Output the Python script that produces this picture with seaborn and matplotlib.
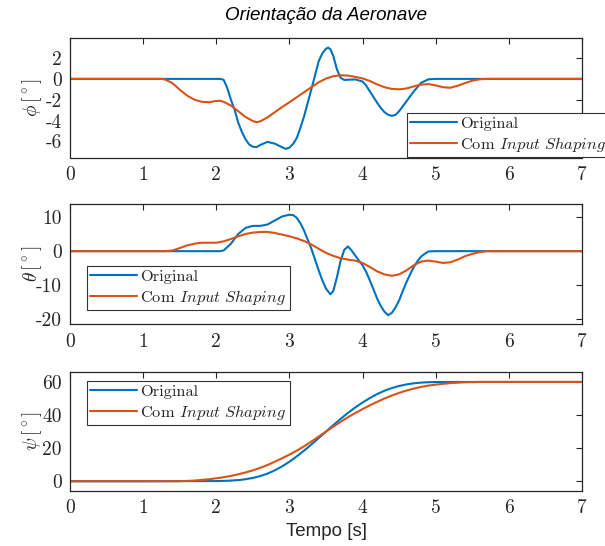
import numpy as np
import pandas as pd
import matplotlib
matplotlib.use("Agg")
import matplotlib.pyplot as plt
import seaborn as sns

# ---------------- data ----------------
series_names = ["Original", r"Com $Input\ Shaping$"]
x_ticks = [0, 1, 2, 3, 4, 5, 6, 7]

# phi - Original
t_phi_orig = [0.0, 1.0, 2.0, 2.05, 2.1, 2.15, 2.2, 2.25, 2.3, 2.35, 2.4, 2.45, 2.5, 2.55,
              2.6, 2.7, 2.8, 2.9, 2.95, 3.0, 3.05, 3.1, 3.15, 3.2, 3.25, 3.3, 3.35, 3.4,
              3.45, 3.5, 3.53, 3.56, 3.6, 3.65, 3.7, 3.75, 3.8, 3.9, 4.0, 4.05, 4.1, 4.15,
              4.2, 4.25, 4.3, 4.35, 4.4, 4.45, 4.5, 4.6, 4.7, 4.8, 4.9, 5.0, 6.0, 7.0]
phi_orig = [0.0, 0.0, 0.0, 0.0, -0.08, -0.87, -2.0, -2.95, -4.2, -5.1, -5.8, -6.3, -6.52, -6.55,
            -6.35, -6.05, -6.22, -6.57, -6.72, -6.6, -6.25, -5.68, -4.7, -3.6, -2.3, -1.0, 0.35, 1.7,
            2.45, 2.9, 3.0, 2.85, 2.2, 0.9, 0.1, -0.1, -0.08, -0.05, -0.25, -0.65, -1.2, -1.75,
            -2.3, -2.8, -3.2, -3.45, -3.55, -3.45, -3.1, -2.15, -1.2, -0.38, -0.04, 0.0, 0.0, 0.0]

# phi - Com Input Shaping
t_phi_is = [0.0, 1.0, 1.25, 1.3, 1.4, 1.5, 1.6, 1.7, 1.8, 1.9, 2.0, 2.05, 2.1, 2.2, 2.3, 2.4,
            2.5, 2.55, 2.6, 2.7, 2.8, 2.9, 3.0, 3.1, 3.2, 3.3, 3.4, 3.5, 3.6, 3.7, 3.8, 3.9,
            4.0, 4.1, 4.2, 4.3, 4.4, 4.5, 4.6, 4.7, 4.8, 4.9, 5.0, 5.1, 5.2, 5.3, 5.4, 5.5,
            5.6, 5.7, 6.0, 7.0]
phi_is = [0.0, 0.0, 0.0, -0.06, -0.4, -1.03, -1.6, -1.99, -2.2, -2.24, -2.12, -2.1, -2.2, -2.56, -3.1, -3.66,
          -4.05, -4.15, -4.08, -3.7, -3.2, -2.7, -2.24, -1.76, -1.28, -0.8, -0.32, 0.03, 0.26, 0.35, 0.32, 0.19,
          0.05, -0.2, -0.53, -0.8, -0.96, -1.0, -0.92, -0.72, -0.55, -0.5, -0.62, -0.8, -0.85, -0.66, -0.4, -0.17,
          -0.04, 0.0, 0.0, 0.0]

# theta - Original
t_theta_orig = [0.0, 1.0, 2.0, 2.05, 2.1, 2.2, 2.3, 2.4, 2.5, 2.6, 2.7, 2.8, 2.9, 3.0, 3.05,
                3.1, 3.15, 3.2, 3.25, 3.3, 3.35, 3.4, 3.45, 3.5, 3.56, 3.6, 3.65, 3.7, 3.75,
                3.8, 3.85, 3.9, 3.95, 4.0, 4.05, 4.1, 4.15, 4.2, 4.25, 4.3, 4.35, 4.4, 4.45,
                4.5, 4.55, 4.6, 4.65, 4.7, 4.75, 4.8, 4.85, 4.9, 5.0, 6.0, 7.0]
theta_orig = [0.0, 0.0, 0.0, 0.0, 0.2, 2.2, 5.1, 6.9, 7.5, 7.5, 7.9, 9.1, 10.3, 10.8, 10.7,
              9.9, 8.3, 6.1, 3.4, 0.7, -2.5, -5.7, -8.7, -11.1, -12.8, -11.8, -7.7, -2.8, 0.4,
              1.4, 0.2, -1.3, -2.8, -4.2, -6.2, -8.7, -11.4, -14.1, -16.3, -18.0, -19.0, -18.3, -16.7,
              -14.6, -11.8, -9.2, -6.9, -4.7, -3.0, -1.6, -0.8, -0.1, 0.0, 0.0, 0.0]

# theta - Com Input Shaping
t_theta_is = [0.0, 1.0, 1.3, 1.4, 1.5, 1.6, 1.7, 1.8, 1.9, 2.0, 2.1, 2.2, 2.3, 2.4, 2.5, 2.6,
              2.7, 2.8, 2.9, 3.0, 3.1, 3.2, 3.3, 3.4, 3.5, 3.6, 3.7, 3.8, 3.9, 4.0, 4.1, 4.2,
              4.3, 4.4, 4.5, 4.6, 4.7, 4.8, 4.9, 5.0, 5.1, 5.2, 5.3, 5.4, 5.5, 5.6, 5.7, 6.0, 7.0]
theta_is = [0.0, 0.0, 0.0, 0.2, 0.9, 1.7, 2.2, 2.5, 2.5, 2.5, 2.9, 3.6, 4.4, 5.1, 5.5, 5.7,
            5.7, 5.4, 4.9, 4.4, 3.8, 3.0, 2.0, 0.7, -0.5, -1.4, -2.1, -2.5, -2.8, -3.5, -4.7, -6.0,
            -6.9, -7.3, -6.9, -5.7, -4.2, -3.1, -2.8, -3.1, -3.5, -3.3, -2.5, -1.5, -0.8, -0.3, 0.0, 0.0, 0.0]

# psi - Original
t_psi_orig = [0.0, 1.0, 2.0, 2.1, 2.2, 2.3, 2.4, 2.5, 2.6, 2.7, 2.8, 2.9, 3.0, 3.1, 3.2, 3.3,
              3.4, 3.5, 3.6, 3.7, 3.8, 3.9, 4.0, 4.1, 4.2, 4.3, 4.4, 4.5, 4.6, 4.7, 4.8, 4.9,
              5.0, 5.1, 6.0, 7.0]
psi_orig = [0.0, 0.0, 0.1, 0.2, 0.4, 0.7, 1.2, 2.0, 3.1, 4.6, 6.6, 9.0, 11.8, 15.0, 18.5, 22.2,
            26.1, 30.0, 33.9, 37.7, 41.3, 44.6, 47.6, 50.3, 52.7, 54.7, 56.3, 57.6, 58.5, 59.2, 59.6, 59.85,
            59.95, 60.0, 60.0, 60.0]

# psi - Com Input Shaping
t_psi_is = [0.0, 1.0, 1.4, 1.5, 1.6, 1.7, 1.8, 1.9, 2.0, 2.1, 2.2, 2.3, 2.4, 2.5, 2.6, 2.7,
            2.8, 2.9, 3.0, 3.1, 3.2, 3.3, 3.4, 3.5, 3.6, 3.7, 3.8, 3.9, 4.0, 4.1, 4.2, 4.3,
            4.4, 4.5, 4.6, 4.7, 4.8, 4.9, 5.0, 5.2, 5.4, 5.6, 6.0, 7.0]
psi_is = [0.0, 0.0, 0.0, 0.05, 0.2, 0.4, 0.8, 1.2, 1.8, 2.4, 3.2, 4.2, 5.3, 6.6, 8.1, 9.8,
          11.8, 13.9, 16.1, 18.5, 21.1, 24.0, 27.0, 30.0, 33.0, 35.9, 38.7, 41.2, 43.6, 45.9, 48.0, 50.0,
          51.8, 53.4, 54.8, 56.0, 57.0, 57.8, 58.4, 59.3, 59.8, 60.0, 60.0, 60.0]

y_ticks_phi = [-6, -4, -2, 0, 2]
y_ticks_theta = [-20, -10, 0, 10]
y_ticks_psi = [0, 20, 40, 60]

# ---------------- style ----------------
sns.set_style("white")
plt.rcParams["mathtext.fontset"] = "cm"
plt.rcParams["axes.unicode_minus"] = False
plt.rcParams["font.family"] = ["DejaVu Sans"]

BLUE = "#0072BD"
ORANGE = "#D95319"
palette = {series_names[0]: BLUE, series_names[1]: ORANGE}
EDGE = "#262626"

W, H = 605, 546
fig = plt.figure(figsize=(W / 100, H / 100), dpi=100)


def frame(top_px, bottom_px):
    return [70 / W, 1 - bottom_px / H, 512 / W, (bottom_px - top_px) / H]


panels = [
    (frame(38.3, 157.5), t_phi_orig, phi_orig, t_phi_is, phi_is, (-7.55, 3.9), y_ticks_phi,
     r"$\phi\,[^\circ]$", (407, 113)),
    (frame(204.3, 324.3), t_theta_orig, theta_orig, t_theta_is, theta_is, (-21.7, 13.9), y_ticks_theta,
     r"$\theta\,[^\circ]$", (87, 266)),
    (frame(371.7, 491.0), t_psi_orig, psi_orig, t_psi_is, psi_is, (-5.9, 66.2), y_ticks_psi,
     r"$\psi\,[^\circ]$", (87, 381)),
]

axes = []
for rect, t1, y1, t2, y2, ylim, yt, ylab, legpos in panels:
    ax = fig.add_axes(rect)
    df = pd.concat([
        pd.DataFrame({"t": t1, "v": y1, "serie": series_names[0]}),
        pd.DataFrame({"t": t2, "v": y2, "serie": series_names[1]}),
    ], ignore_index=True)
    sns.lineplot(data=df, x="t", y="v", hue="serie", hue_order=series_names, palette=palette,
                 estimator=None, sort=False, linewidth=1.5, legend=False, ax=ax)
    ax.set_xlim(0, 7)
    ax.set_ylim(*ylim)
    ax.set_xticks(x_ticks)
    ax.set_xticklabels([str(v) for v in x_ticks], family="cmr10", fontsize=14)
    ax.set_yticks(yt)
    ax.set_yticklabels([str(v) for v in yt], family="cmr10", fontsize=14)
    ax.tick_params(direction="in", length=4, width=0.8, top=True, right=True,
                   colors=EDGE, labelcolor="#262626", pad=6)
    for s in ax.spines.values():
        s.set_visible(True)
        s.set_color(EDGE)
        s.set_linewidth(0.9)
    ax.set_xlabel("")
    ax.set_ylabel(ylab, fontsize=14, color="#262626")
    ax.yaxis.set_label_coords(-0.05, 0.5)
    lines = ax.get_lines()
    leg = ax.legend(lines[:2], series_names, loc="upper left",
                    bbox_to_anchor=(legpos[0] / W, 1 - legpos[1] / H),
                    bbox_transform=fig.transFigure, borderaxespad=0,
                    prop={"family": "cmr10", "size": 11.8}, handlelength=2.85,
                    handletextpad=0.2, labelspacing=0.25, borderpad=0.2,
                    fancybox=False, framealpha=1, edgecolor="#333333")
    leg.get_frame().set_linewidth(0.8)
    axes.append(ax)

fig.text(326 / W, 1 - 16 / H, "Orientação da Aeronave", ha="center", va="center",
         fontsize=13.5, style="italic", family="Liberation Sans", color="#000000")
fig.text(326 / W, 1 - 532 / H, "Tempo [s]", ha="center", va="center",
         fontsize=13.5, family="Liberation Sans", color="#262626")

fig.savefig("out.png", dpi=100)
